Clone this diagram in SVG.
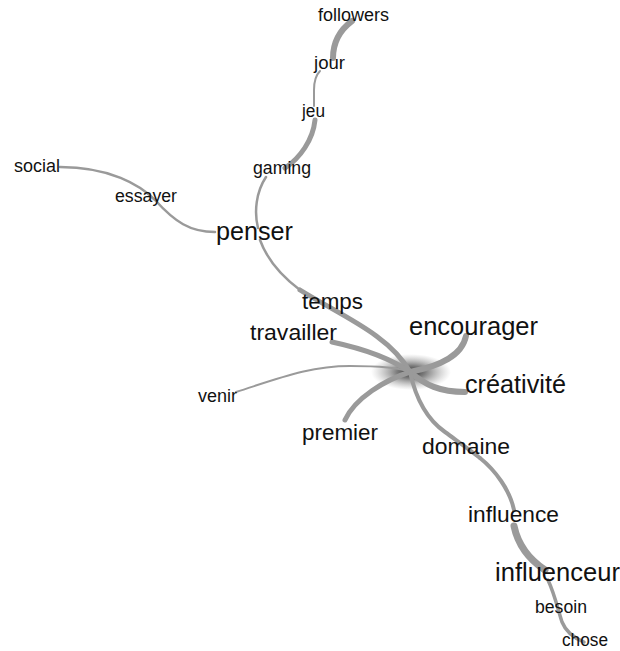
<svg xmlns="http://www.w3.org/2000/svg" width="620" height="651" viewBox="0 0 620 651">
<style>
.e{fill:none;stroke:#9a9a9a;stroke-linecap:round}
.t{font-family:"Liberation Sans",Arial,sans-serif;fill:#111}
.s{font-size:17.5px}
.m{font-size:22.5px}
.l{font-size:25.5px}
</style>
<defs>
<radialGradient id="hub" cx="0.5" cy="0.5" r="0.5">
<stop offset="0" stop-color="#222" stop-opacity="0.95"/>
<stop offset="0.35" stop-color="#444" stop-opacity="0.7"/>
<stop offset="1" stop-color="#888" stop-opacity="0"/>
</radialGradient>
</defs>
<rect width="620" height="651" fill="#fff"/>
<ellipse cx="411" cy="372" rx="40" ry="18" fill="url(#hub)"/>
<g id="connectors">
<path class="e" d="M352,21 C340,30 333,42 333,58" stroke-width="6"/>
<path class="e" d="M320,71 C315,76 314,82 314,90 L314,106" stroke-width="2" stroke="#8a8a8a"/>
<path class="e" d="M315,120 C313,140 300,158 285,168" stroke-width="5"/>
<path class="e" d="M266,177 C256,192 254,212 258,228" stroke-width="2.5" stroke="#8a8a8a"/>
<path class="e" d="M60,167 C110,167 140,185 155,200 C175,222 190,232 215,232" stroke-width="2.5" stroke="#8a8a8a"/>
<path class="e" d="M260,240 C268,262 284,278 300,290" stroke-width="2.5" stroke="#8a8a8a"/>
<path class="e" d="M300,290 C340,315 390,335 410,372" stroke-width="5"/>
<path class="e" d="M332,342 C360,348 390,358 410,372" stroke-width="5"/>
<path class="e" d="M236,392 C280,378 310,366 350,366 C380,366 400,368 410,372" stroke-width="2" stroke="#858585"/>
<path class="e" d="M345,420 C355,398 385,380 410,372" stroke-width="5"/>
<path class="e" d="M466,336 C462,356 440,366 410,372" stroke-width="6"/>
<path class="e" d="M465,392 C440,392 425,385 410,372" stroke-width="6"/>
<path class="e" d="M410,372 C415,395 425,418 445,432 C460,443 470,450 480,458" stroke-width="4"/>
<path class="e" d="M480,458 C495,470 510,490 514,510" stroke-width="4"/>
<path class="e" d="M514,526 C518,545 530,560 545,570" stroke-width="7"/>
<path class="e" d="M548,580 C555,595 558,610 562,622 C566,632 574,638 584,642" stroke-width="3.5"/>
</g>
<g id="n-followers"><text class="t s" x="318" y="21" textLength="71" lengthAdjust="spacingAndGlyphs">followers</text></g>
<g id="n-jour"><text class="t s" x="314" y="69" textLength="31" lengthAdjust="spacingAndGlyphs">jour</text></g>
<g id="n-jeu"><text class="t s" x="302" y="117" textLength="23" lengthAdjust="spacingAndGlyphs">jeu</text></g>
<g id="n-gaming"><text class="t s" x="253" y="174" textLength="58" lengthAdjust="spacingAndGlyphs">gaming</text></g>
<g id="n-social"><text class="t s" x="14" y="172" textLength="46" lengthAdjust="spacingAndGlyphs">social</text></g>
<g id="n-essayer"><text class="t s" x="115" y="202" textLength="62" lengthAdjust="spacingAndGlyphs">essayer</text></g>
<g id="n-penser"><text class="t l" x="216" y="240" textLength="77" lengthAdjust="spacingAndGlyphs">penser</text></g>
<g id="n-temps"><text class="t m" x="302" y="309" textLength="61" lengthAdjust="spacingAndGlyphs">temps</text></g>
<g id="n-travailler"><text class="t m" x="250" y="340" textLength="87" lengthAdjust="spacingAndGlyphs">travailler</text></g>
<g id="n-encourager"><text class="t l" x="409" y="335" textLength="129" lengthAdjust="spacingAndGlyphs">encourager</text></g>
<g id="n-creativite"><text class="t l" x="465" y="393" textLength="101" lengthAdjust="spacingAndGlyphs">créativité</text></g>
<g id="n-venir"><text class="t s" x="198" y="402" textLength="39" lengthAdjust="spacingAndGlyphs">venir</text></g>
<g id="n-premier"><text class="t m" x="302" y="440" textLength="76" lengthAdjust="spacingAndGlyphs">premier</text></g>
<g id="n-domaine"><text class="t m" x="422" y="454" textLength="88" lengthAdjust="spacingAndGlyphs">domaine</text></g>
<g id="n-influence"><text class="t m" x="468" y="522" textLength="91" lengthAdjust="spacingAndGlyphs">influence</text></g>
<g id="n-influenceur"><text class="t l" x="495" y="581" textLength="125" lengthAdjust="spacingAndGlyphs">influenceur</text></g>
<g id="n-besoin"><text class="t s" x="535" y="613" textLength="52" lengthAdjust="spacingAndGlyphs">besoin</text></g>
<g id="n-chose"><text class="t s" x="562" y="646" textLength="46" lengthAdjust="spacingAndGlyphs">chose</text></g>
</svg>
